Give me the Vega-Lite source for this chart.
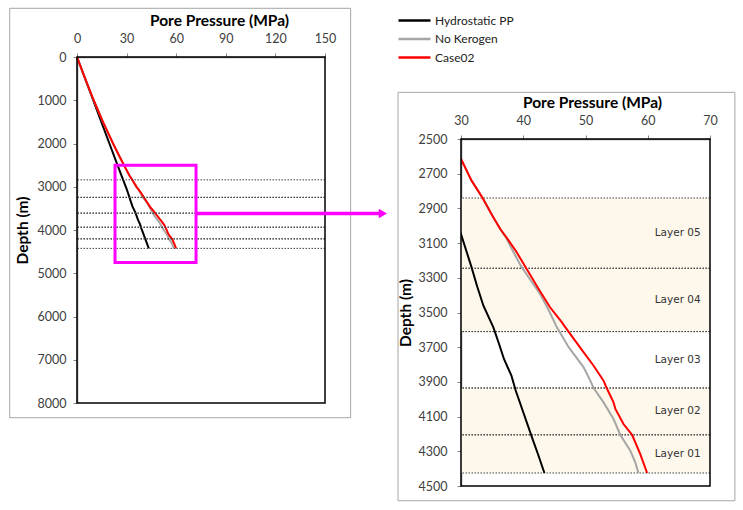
{
  "$schema": "https://vega.github.io/schema/vega-lite/v6.json",
  "padding": {"left": 9, "top": 7, "right": 3, "bottom": 3},
  "background": "white",
  "config": {
    "font": "Lato",
    "view": {"stroke": null},
    "axis": {
      "labelFont": "Lato", "labelFontSize": 12.5, "labelColor": "#404040",
      "titleFont": "Lato", "titleFontSize": 15.5, "titleFontWeight": "bold", "titleColor": "#000000",
      "domainColor": "#868686", "domainWidth": 1.5, "tickColor": "#868686", "tickSize": 4,
      "grid": false, "zindex": 1, "labelFlush": false, "labelOverlap": false
    }
  },
  "datasets": {
    "pp": [
      {"series": "Hydrostatic PP", "depth": 0, "pp": 0},
      {"series": "Hydrostatic PP", "depth": 500, "pp": 4.9},
      {"series": "Hydrostatic PP", "depth": 1000, "pp": 9.8},
      {"series": "Hydrostatic PP", "depth": 1500, "pp": 14.7},
      {"series": "Hydrostatic PP", "depth": 2000, "pp": 19.6},
      {"series": "Hydrostatic PP", "depth": 2500, "pp": 24.5},
      {"series": "Hydrostatic PP", "depth": 2800, "pp": 27.5},
      {"series": "Hydrostatic PP", "depth": 3048, "pp": 30.0},
      {"series": "Hydrostatic PP", "depth": 3150, "pp": 30.9},
      {"series": "Hydrostatic PP", "depth": 3240, "pp": 31.7},
      {"series": "Hydrostatic PP", "depth": 3350, "pp": 32.6},
      {"series": "Hydrostatic PP", "depth": 3461, "pp": 33.6},
      {"series": "Hydrostatic PP", "depth": 3586, "pp": 35.2},
      {"series": "Hydrostatic PP", "depth": 3680, "pp": 36.1},
      {"series": "Hydrostatic PP", "depth": 3768, "pp": 36.9},
      {"series": "Hydrostatic PP", "depth": 3864, "pp": 38.1},
      {"series": "Hydrostatic PP", "depth": 3951, "pp": 38.8},
      {"series": "Hydrostatic PP", "depth": 4085, "pp": 40.1},
      {"series": "Hydrostatic PP", "depth": 4220, "pp": 41.4},
      {"series": "Hydrostatic PP", "depth": 4320, "pp": 42.4},
      {"series": "Hydrostatic PP", "depth": 4425, "pp": 43.4},
      {"series": "No Kerogen", "depth": 0, "pp": 0},
      {"series": "No Kerogen", "depth": 500, "pp": 4.95},
      {"series": "No Kerogen", "depth": 1000, "pp": 10.1},
      {"series": "No Kerogen", "depth": 1500, "pp": 15.7},
      {"series": "No Kerogen", "depth": 2000, "pp": 21.8},
      {"series": "No Kerogen", "depth": 2300, "pp": 25.7},
      {"series": "No Kerogen", "depth": 2615, "pp": 30.0},
      {"series": "No Kerogen", "depth": 2740, "pp": 31.7},
      {"series": "No Kerogen", "depth": 2842, "pp": 33.5},
      {"series": "No Kerogen", "depth": 2940, "pp": 35.0},
      {"series": "No Kerogen", "depth": 3019, "pp": 36.3},
      {"series": "No Kerogen", "depth": 3067, "pp": 37.2},
      {"series": "No Kerogen", "depth": 3150, "pp": 38.4},
      {"series": "No Kerogen", "depth": 3230, "pp": 39.6},
      {"series": "No Kerogen", "depth": 3310, "pp": 41.1},
      {"series": "No Kerogen", "depth": 3393, "pp": 42.7},
      {"series": "No Kerogen", "depth": 3480, "pp": 44.0},
      {"series": "No Kerogen", "depth": 3585, "pp": 45.4},
      {"series": "No Kerogen", "depth": 3700, "pp": 47.3},
      {"series": "No Kerogen", "depth": 3816, "pp": 49.7},
      {"series": "No Kerogen", "depth": 3880, "pp": 50.6},
      {"series": "No Kerogen", "depth": 3935, "pp": 51.3},
      {"series": "No Kerogen", "depth": 4018, "pp": 52.9},
      {"series": "No Kerogen", "depth": 4114, "pp": 54.5},
      {"series": "No Kerogen", "depth": 4206, "pp": 55.6},
      {"series": "No Kerogen", "depth": 4297, "pp": 57.2},
      {"series": "No Kerogen", "depth": 4364, "pp": 58.0},
      {"series": "No Kerogen", "depth": 4425, "pp": 58.5},
      {"series": "Case02", "depth": 0, "pp": 0},
      {"series": "Case02", "depth": 500, "pp": 4.95},
      {"series": "Case02", "depth": 1000, "pp": 10.1},
      {"series": "Case02", "depth": 1500, "pp": 15.7},
      {"series": "Case02", "depth": 2000, "pp": 21.8},
      {"series": "Case02", "depth": 2300, "pp": 25.7},
      {"series": "Case02", "depth": 2615, "pp": 30.0},
      {"series": "Case02", "depth": 2740, "pp": 31.7},
      {"series": "Case02", "depth": 2842, "pp": 33.5},
      {"series": "Case02", "depth": 2940, "pp": 35.0},
      {"series": "Case02", "depth": 3019, "pp": 36.3},
      {"series": "Case02", "depth": 3067, "pp": 37.3},
      {"series": "Case02", "depth": 3150, "pp": 38.9},
      {"series": "Case02", "depth": 3247, "pp": 40.5},
      {"series": "Case02", "depth": 3360, "pp": 42.4},
      {"series": "Case02", "depth": 3470, "pp": 44.3},
      {"series": "Case02", "depth": 3547, "pp": 46.0},
      {"series": "Case02", "depth": 3612, "pp": 47.3},
      {"series": "Case02", "depth": 3720, "pp": 49.5},
      {"series": "Case02", "depth": 3807, "pp": 51.3},
      {"series": "Case02", "depth": 3893, "pp": 52.9},
      {"series": "Case02", "depth": 3935, "pp": 53.4},
      {"series": "Case02", "depth": 4018, "pp": 54.5},
      {"series": "Case02", "depth": 4056, "pp": 54.8},
      {"series": "Case02", "depth": 4143, "pp": 56.1},
      {"series": "Case02", "depth": 4206, "pp": 57.5},
      {"series": "Case02", "depth": 4316, "pp": 58.8},
      {"series": "Case02", "depth": 4425, "pp": 59.9}
    ],
    "layers": [
      {"layer": "Layer 05", "top": 2840, "bottom": 3245, "shaded": true},
      {"layer": "Layer 04", "top": 3245, "bottom": 3610, "shaded": true},
      {"layer": "Layer 03", "top": 3610, "bottom": 3935, "shaded": false},
      {"layer": "Layer 02", "top": 3935, "bottom": 4205, "shaded": true},
      {"layer": "Layer 01", "top": 4205, "bottom": 4425, "shaded": true}
    ]
  },
  "spacing": 136,
  "bounds": "flush",
  "resolve": {"scale": {"color": "shared"}, "legend": {"color": "shared"}},
  "hconcat": [
    {
      "width": 248,
      "height": 346,
      "layer": [
        {
          "data": {"name": "pp"},
          "mark": {"type": "line", "strokeWidth": 2},
          "encoding": {
            "x": {"field": "pp", "type": "quantitative", "scale": {"domain": [0, 150], "nice": false, "zero": false},
              "axis": {"orient": "top", "values": [0, 30, 60, 90, 120, 150], "tickCount": 6, "title": "Pore Pressure (MPa)", "labelPadding": 8, "titlePadding": 4, "titleX": 142, "labelOverlap": false}},
            "y": {"field": "depth", "type": "quantitative", "scale": {"domain": [0, 8000], "reverse": true, "nice": false, "zero": false},
              "axis": {"values": [0, 1000, 2000, 3000, 4000, 5000, 6000, 7000, 8000], "tickCount": 9, "format": "d", "title": "Depth (m)", "labelPadding": 7, "titlePadding": 7, "labelOverlap": false}},
            "color": {"field": "series", "type": "nominal",
              "scale": {"domain": ["Hydrostatic PP", "No Kerogen", "Case02"], "range": ["#000000", "#A6A6A6", "#FF0000"]},
              "legend": {"orient": "none", "legendX": 326, "legendY": -48, "title": null, "symbolType": "M-1.6,0H1.6", "symbolSize": 400, "symbolStrokeWidth": 2.5, "labelOffset": 9, "labelFont": "Lato", "labelFontSize": 12, "labelColor": "#222222", "rowPadding": 0.5}},
            "order": {"field": "depth", "type": "quantitative"}
          }
        },
        {
          "data": {"name": "layers"},
          "mark": {"type": "rule", "color": "#404040", "strokeWidth": 1, "strokeDash": [1.5, 1.5]},
          "encoding": {"y": {"field": "top", "type": "quantitative"}}
        },
        {
          "data": {"name": "layers"},
          "mark": {"type": "rule", "color": "#404040", "strokeWidth": 1, "strokeDash": [1.5, 1.5]},
          "encoding": {"y": {"field": "bottom", "type": "quantitative"}}
        },
        {
          "data": {"values": [{}]},
          "mark": {"type": "rect", "fill": "transparent", "stroke": "#A6A6A6", "strokeWidth": 1, "clip": false},
          "encoding": {
            "x": {"datum": -40.7, "type": "quantitative"},
            "x2": {"datum": 165.5},
            "y": {"datum": -1126, "type": "quantitative"},
            "y2": {"datum": 8340}
          }
        },
        {
          "data": {"values": [{}]},
          "mark": {"type": "rect", "fill": "transparent", "stroke": "#000000", "strokeWidth": 1.5},
          "encoding": {
            "x": {"datum": 0, "type": "quantitative"},
            "x2": {"datum": 150},
            "y": {"datum": 0, "type": "quantitative"},
            "y2": {"datum": 8000}
          }
        },
        {
          "data": {"values": [{"p1": 23, "p2": 72, "d1": 2500, "d2": 4750}]},
          "mark": {"type": "rect", "fill": "transparent", "stroke": "#FF00FF", "strokeWidth": 3},
          "encoding": {
            "x": {"field": "p1", "type": "quantitative"},
            "x2": {"field": "p2"},
            "y": {"field": "d1", "type": "quantitative"},
            "y2": {"field": "d2"}
          }
        },
        {
          "data": {"values": [{}]},
          "mark": {"type": "rule", "color": "#FF00FF", "strokeWidth": 3.5, "clip": false},
          "encoding": {
            "x": {"datum": 72, "type": "quantitative"},
            "x2": {"datum": 183},
            "y": {"datum": 3620, "type": "quantitative"}
          }
        },
        {
          "data": {"values": [{}]},
          "mark": {"type": "point", "shape": "triangle-right", "filled": true, "color": "#FF00FF", "opacity": 1, "size": 90, "clip": false},
          "encoding": {
            "x": {"datum": 185, "type": "quantitative"},
            "y": {"datum": 3620, "type": "quantitative"}
          }
        }
      ]
    },
    {
      "spacing": 81,
      "bounds": "flush",
      "resolve": {"scale": {"color": "shared"}, "legend": {"color": "shared"}},
      "vconcat": [
        {
          "width": 249,
          "height": 1,
          "data": {"values": []},
          "mark": "point",
          "encoding": {}
        },
        {
          "width": 249,
          "height": 347,
          "layer": [
            {
              "data": {"name": "layers"},
              "transform": [{"filter": "datum.shaded"}],
              "mark": {"type": "rect", "fill": "#FEF8EC"},
              "encoding": {
                "x": {"datum": 30, "type": "quantitative", "scale": {"domain": [30, 70], "nice": false, "zero": false},
                  "axis": {"orient": "top", "values": [30, 40, 50, 60, 70], "tickCount": 5, "title": "Pore Pressure (MPa)", "labelPadding": 8, "titlePadding": 4, "titleX": 131, "labelOverlap": false}},
                "x2": {"datum": 70},
                "y": {"field": "top", "type": "quantitative", "scale": {"domain": [2500, 4500], "reverse": true, "nice": false, "zero": false},
                  "axis": {"values": [2500, 2700, 2900, 3100, 3300, 3500, 3700, 3900, 4100, 4300, 4500], "tickCount": 11, "format": "d", "title": "Depth (m)", "labelPadding": 10, "titlePadding": 5, "labelOverlap": false}},
                "y2": {"field": "bottom"}
              }
            },
            {
              "data": {"name": "layers"},
              "mark": {"type": "rule", "color": "#404040", "strokeWidth": 1, "strokeDash": [1.5, 1.5]},
              "encoding": {"y": {"field": "top", "type": "quantitative"}}
            },
            {
              "data": {"name": "layers"},
              "mark": {"type": "rule", "color": "#404040", "strokeWidth": 1, "strokeDash": [1.5, 1.5]},
              "encoding": {"y": {"field": "bottom", "type": "quantitative"}}
            },
            {
              "data": {"name": "pp"},
              "mark": {"type": "line", "strokeWidth": 2, "clip": true},
              "encoding": {
                "x": {"field": "pp", "type": "quantitative"},
                "y": {"field": "depth", "type": "quantitative"},
                "color": {"field": "series", "type": "nominal",
                  "scale": {"domain": ["Hydrostatic PP", "No Kerogen", "Case02"], "range": ["#000000", "#A6A6A6", "#FF0000"]}},
                "order": {"field": "depth", "type": "quantitative"}
              }
            },
            {
              "data": {"name": "layers"},
              "transform": [{"calculate": "(datum.top + datum.bottom) / 2", "as": "mid"}],
              "mark": {"type": "text", "align": "right", "baseline": "middle", "font": "DejaVu Sans", "fontSize": 10.5, "color": "#333333"},
              "encoding": {
                "x": {"datum": 68.5, "type": "quantitative"},
                "y": {"field": "mid", "type": "quantitative"},
                "text": {"field": "layer", "type": "nominal"}
              }
            },
            {
              "data": {"values": [{}]},
              "mark": {"type": "rect", "fill": "transparent", "stroke": "#A6A6A6", "strokeWidth": 1, "clip": false},
              "encoding": {
                "x": {"datum": 19.88, "type": "quantitative"},
                "x2": {"datum": 74.0},
                "y": {"datum": 2231, "type": "quantitative"},
                "y2": {"datum": 4585}
              }
            },
            {
              "data": {"values": [{}]},
              "mark": {"type": "rect", "fill": "transparent", "stroke": "#000000", "strokeWidth": 1.5},
              "encoding": {
                "x": {"datum": 30, "type": "quantitative"},
                "x2": {"datum": 70},
                "y": {"datum": 2500, "type": "quantitative"},
                "y2": {"datum": 4500}
              }
            }
          ]
        }
      ]
    }
  ]
}
